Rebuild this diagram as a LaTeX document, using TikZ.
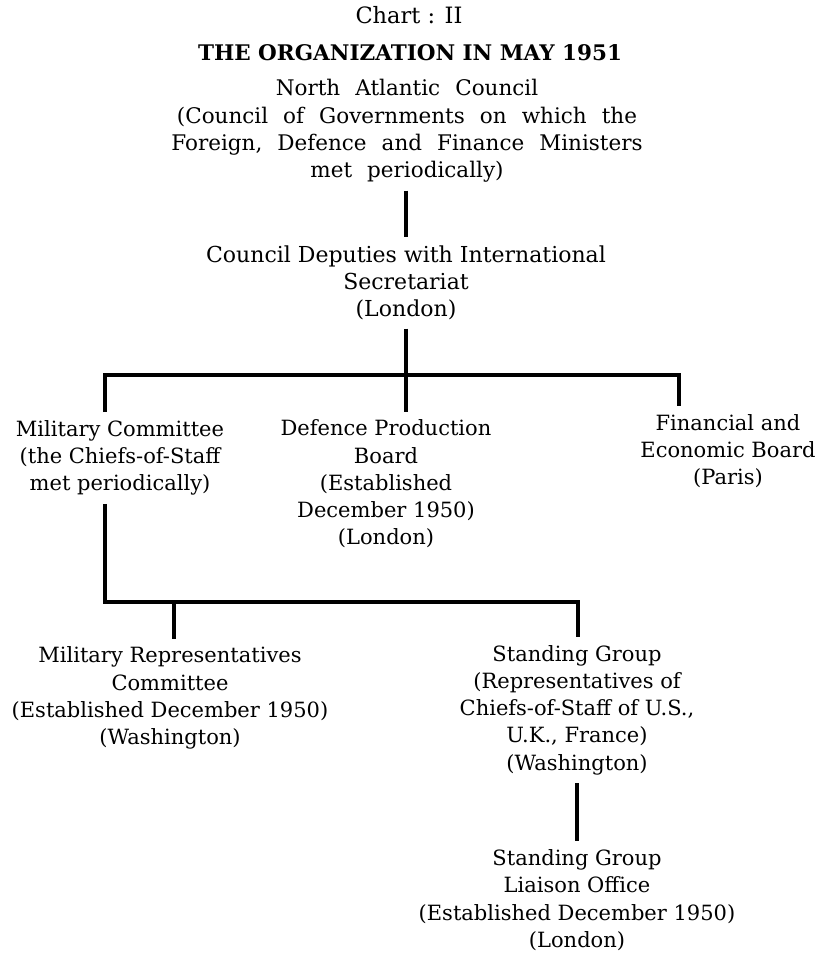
\documentclass[tikz,border=0pt]{standalone}
\usepackage{fontspec}
\setmainfont{DejaVu Serif}
\newfontfamily\widefont[WordSpace=2.2]{DejaVu Serif}
\begin{document}
\begin{tikzpicture}[x=1pt,y=-1pt,
  unit/.style={align=center,inner xsep=3pt,inner ysep=8pt,font=\fontsize{21}{27.3}\selectfont},
  link/.style={line width=3.2pt}]
\useasboundingbox (0,0) rectangle (826,957);
% heading
\node[font=\fontsize{22.5}{25}\selectfont] (chart) at (409,15) {Chart : II};
\node[font=\bfseries\fontsize{21.5}{24}\selectfont] (head) at (410,53) {THE ORGANIZATION IN MAY 1951};
% bodies
\node[unit,font=\widefont\fontsize{21.5}{27.3}\selectfont] (nac) at (407,131) {North Atlantic Council\\(Council of Governments on which the\\Foreign, Defence and Finance Ministers\\met periodically)};
\node[unit,font=\fontsize{22}{27.3}\selectfont] (cd) at (406,283) {Council Deputies with International\\Secretariat\\(London)};
\node[unit] (mc) at (120,458) {Military Committee\\(the Chiefs-of-Staff\\met periodically)};
\node[unit] (dpb) at (386,484) {Defence Production\\Board\\(Established\\December 1950)\\(London)};
\node[unit] (feb) at (728,451) {Financial and\\Economic Board\\(Paris)};
\node[unit] (mrc) at (170,698) {Military Representatives\\Committee\\(Established December 1950)\\(Washington)};
\node[unit] (sg) at (577,710) {Standing Group\\(Representatives of\\Chiefs-of-Staff of U.S.,\\U.K., France)\\(Washington)};
\node[unit] (sglo) at (577,900) {Standing Group\\Liaison Office\\(Established December 1950)\\(London)};
% junctions
\coordinate (fork) at (406,375);
\coordinate (forkL) at (105,375);
\coordinate (forkR) at (679,375);
\coordinate (lowL) at (105,602);
\coordinate (lowM) at (174,602);
\coordinate (lowR) at (578,602);
% links
\draw[link] (nac.south -| cd) -- (cd);
\draw[link] (cd) -- (fork);
\draw[link] (forkL |- mc.north) -- (forkL) -- (forkR) -- (forkR |- feb.north); %upper bracket
\draw[link] (fork) -- (fork |- dpb.north);
\draw[link] (lowL |- mc.south) -- (lowL) -- (lowR) -- (lowR |- sg.north); %lower bracket
\draw[link] (lowM) -- (lowM |- mrc.north);
\draw[link] (sg) -- (sglo);
\end{tikzpicture}
\end{document}
